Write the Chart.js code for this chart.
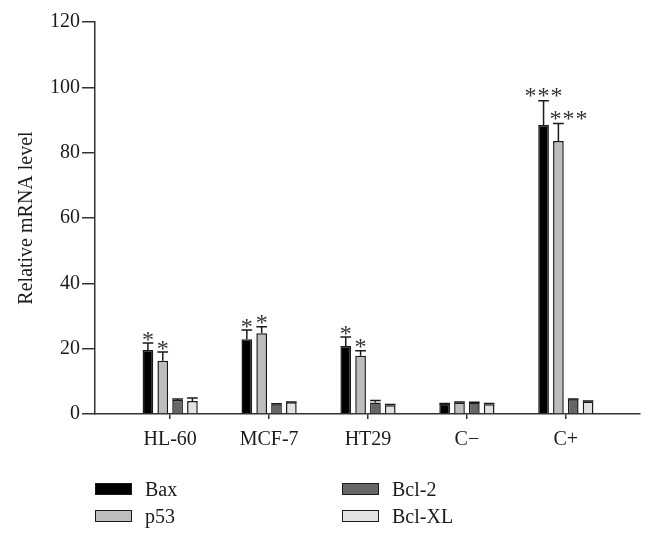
<!DOCTYPE html>
<html>
<head>
<meta charset="utf-8">
<script src="https://cdn.jsdelivr.net/npm/chart.js@4"></script>
<style>
  html, body { margin:0; padding:0; background:#fff; }
  #wrap { position:relative; width:654px; height:541px; }
  canvas { position:absolute; left:0; top:0; }
  .sw { position:absolute; width:35px; height:10px; border:1.5px solid #1a1a1a; }
  .lt { position:absolute; font-family:"Liberation Serif", "Times New Roman", serif; font-size:20px; color:#1a1a1a; line-height:24px; }
</style>
</head>
<body>
<div id="wrap">
  <canvas id="c" width="654" height="541"></canvas>
  <div class="sw" style="left:95px;top:483px;background:#000;"></div>
  <div class="lt" style="left:145px;top:477px;">Bax</div>
  <div class="sw" style="left:95px;top:510px;background:#bdbdbd;"></div>
  <div class="lt" style="left:145px;top:504px;">p53</div>
  <div class="sw" style="left:342px;top:483px;background:#666666;"></div>
  <div class="lt" style="left:392px;top:477px;">Bcl-2</div>
  <div class="sw" style="left:342px;top:510px;background:#e2e2e2;"></div>
  <div class="lt" style="left:392px;top:504px;">Bcl-XL</div>
</div>
<script>
const categories = ['HL-60', 'MCF-7', 'HT29', 'C\u2212', 'C+'];
const seriesNames = ['Bax', 'p53', 'Bcl-2', 'Bcl-XL'];
const baxValues   = [19.6, 22.9, 20.8, 3.1, 88.5];
const p53Values   = [16.3, 24.7, 17.8, 3.5, 83.6];
const bcl2Values  = [4.3, 3.0, 3.5, 3.5, 4.5];
const bclxlValues = [4.0, 3.6, 2.7, 3.0, 3.8];
const baxErr   = [2.1, 2.8, 2.8, 0.1, 7.4];
const p53Err   = [2.7, 2.0, 1.6, 0.2, 5.3];
const bcl2Err  = [0.3, 0.1, 0.6, 0.1, 0.1];
const bclxlErr = [0.9, 0.1, 0.2, 0.2, 0.2];
const baxStars = ['*', '*', '*', '', '***'];
const p53Stars = ['*', '*', '*', '', '***'];
const yTicks = [0, 20, 40, 60, 80, 100, 120];

const colors = ['#000000', '#bdbdbd', '#666666', '#e2e2e2'];
const allValues = [baxValues, p53Values, bcl2Values, bclxlValues];
const allErr = [baxErr, p53Err, bcl2Err, bclxlErr];
const allStars = [baxStars, p53Stars, null, null];

const datasets = seriesNames.map((name, i) => ({
  label: name,
  data: allValues[i].map((v, k) => ({ x: k, y: v })),
  err: allErr[i],
  stars: allStars[i],
  backgroundColor: colors[i],
  borderColor: '#1a1a1a',
  borderWidth: 1.5,
  categoryPercentage: 0.6,
  barPercentage: 0.72
}));

const FONT = '"Liberation Serif", "Times New Roman", serif';

const errorBars = {
  id: 'errorBars',
  afterDatasetsDraw(chart) {
    const ctx = chart.ctx;
    const y = chart.scales.y;
    ctx.save();
    chart.data.datasets.forEach((ds, di) => {
      const meta = chart.getDatasetMeta(di);
      meta.data.forEach((bar, k) => {
        const top = y.getPixelForValue(ds.data[k].y + ds.err[k]);
        const half = bar.width / 2;
        ctx.strokeStyle = '#1a1a1a';
        ctx.lineWidth = 1.5;
        ctx.beginPath();
        ctx.moveTo(bar.x, bar.y);
        ctx.lineTo(bar.x, top);
        ctx.moveTo(bar.x - half, top);
        ctx.lineTo(bar.x + half, top);
        ctx.stroke();
        const s = ds.stars ? ds.stars[k] : '';
        if (s) {
          ctx.fillStyle = '#333';
          ctx.font = '24px ' + FONT;
          ctx.textAlign = 'center';
          ctx.textBaseline = 'alphabetic';
          const n = s.length;
          const pitch = 13;
          const shift = (n > 1 && di === 1) ? 10 : 0;
          const base = n > 1 ? top + 2.2 : top + 3.7;
          for (let j = 0; j < n; j++) {
            const cx = bar.x + shift + (j - (n - 1) / 2) * pitch;
            ctx.fillText('*', cx, base);
          }
        }
      });
    });
    ctx.restore();
  }
};

new Chart(document.getElementById('c'), {
  type: 'bar',
  data: { datasets },
  plugins: [errorBars],
  options: {
    responsive: false,
    animation: false,
    devicePixelRatio: 1,
    layout: { padding: { left: 0, right: 14, top: 22, bottom: 87 } },
    plugins: { legend: { display: false }, tooltip: { enabled: false } },
    scales: {
      x: {
        type: 'linear',
        offset: false,
        min: -0.76,
        max: 4.75,
        afterBuildTicks: (s) => { s.ticks = categories.map((c, i) => ({ value: i })); },
        afterFit: (s) => { s.height = 40; },
        grid: { display: true, offset: false, drawOnChartArea: false, drawTicks: true, tickLength: 5, color: '#333', lineWidth: 1.5 },
        border: { display: true, color: '#333', width: 1.5 },
        ticks: {
          autoSkip: false, maxRotation: 0, padding: 9,
          color: '#1a1a1a', font: { family: FONT, size: 20 },
          callback: (v) => categories[v]
        }
      },
      y: {
        min: 0, max: 120,
        afterBuildTicks: (s) => { s.ticks = yTicks.map(v => ({ value: v })); },
        afterFit: (s) => { s.width = 95; },
        grid: { display: true, drawOnChartArea: false, drawTicks: true, tickLength: 13, color: '#333', lineWidth: 1.5 },
        border: { display: true, color: '#333', width: 1.5 },
        ticks: { padding: 2, color: '#1a1a1a', font: { family: FONT, size: 20 } },
        title: { display: true, text: 'Relative mRNA level', color: '#1a1a1a', font: { family: FONT, size: 20 }, padding: { top: 15, bottom: 0 } }
      }
    }
  }
});
</script>
</body>
</html>
